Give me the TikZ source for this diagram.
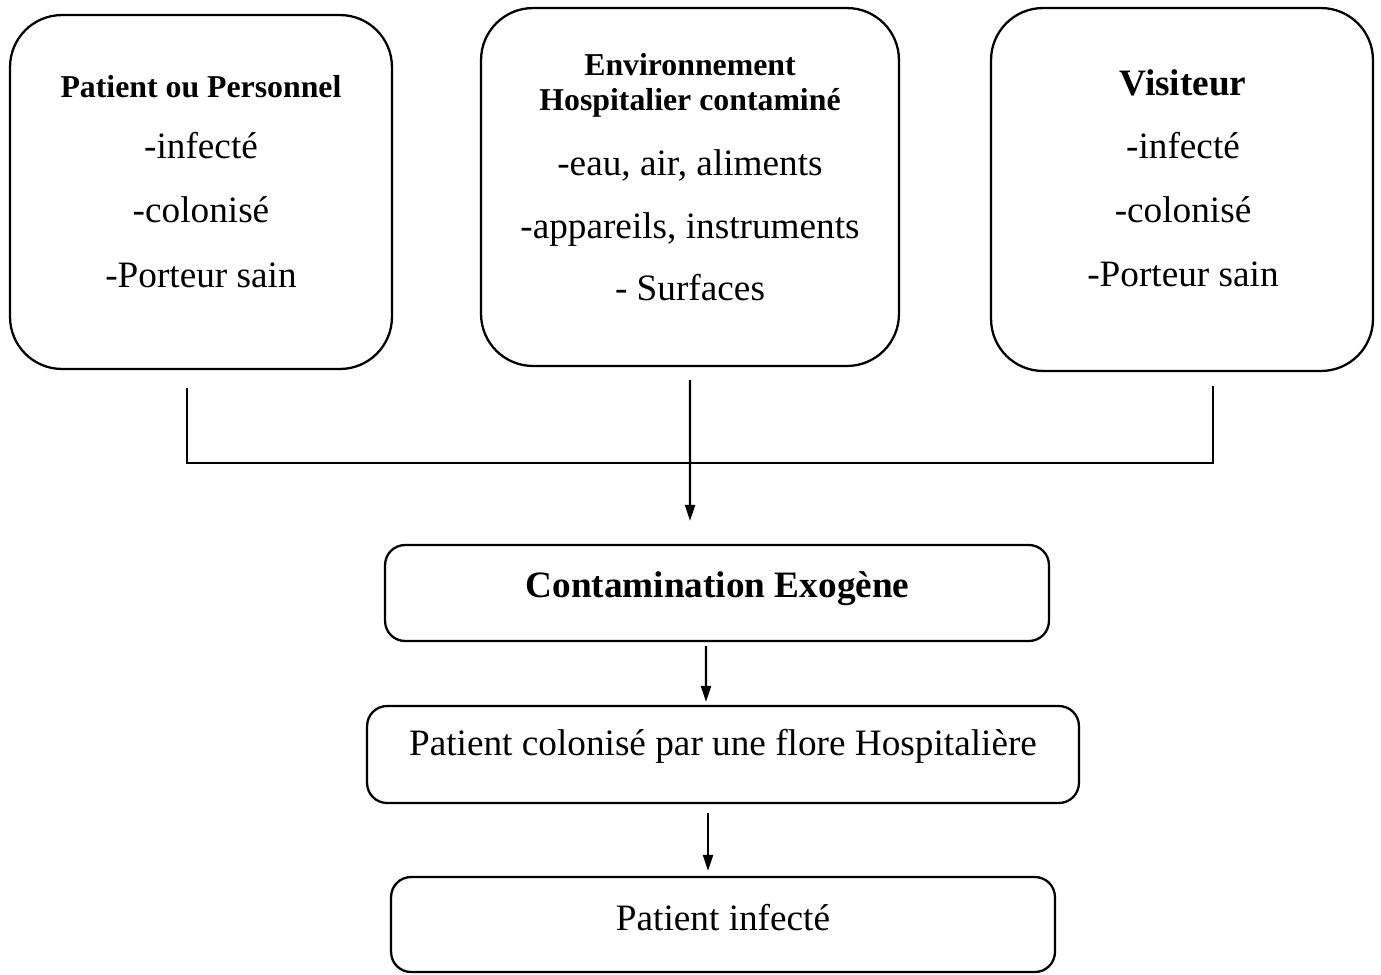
\documentclass[tikz,border=0pt]{standalone}
\usepackage{fontspec}
\setmainfont{Liberation Serif}
\usetikzlibrary{arrows.meta}
\newcommand{\bodysz}{\fontsize{21.2}{25}\selectfont}
\newcommand{\headsz}{\bfseries\fontsize{18.1}{21}\selectfont}
\newcommand{\bigheadsz}{\bfseries\fontsize{21.2}{25}\selectfont}
\tikzset{
  srcbox/.style={draw,line width=1.3pt,rounded corners=1.04cm,inner sep=0},
  stepbox/.style={draw,line width=1.3pt,rounded corners=0.4cm,inner sep=0},
  txt/.style={font=\bodysz,anchor=base,inner sep=0},
  link/.style={line width=1.3pt},
  arr/.style={line width=1.2pt,-{Triangle[length=0.32cm,width=0.2cm]}}
}
\begin{document}
\begin{tikzpicture}[x=0.02cm,y=-0.02cm]
  \useasboundingbox (0,0) rectangle (1381,974);
  % sources
  \node[srcbox,minimum width=7.64cm,minimum height=7.08cm](pat)at(201,192){};
  \node[srcbox,minimum width=8.36cm,minimum height=7.16cm](env)at(690,187){};
  \node[srcbox,minimum width=7.64cm,minimum height=7.26cm](vis)at(1182,189.5){};
  \node[txt,font=\headsz](patH)at(201,97){Patient ou Personnel};
  \foreach \t/\yy [count=\i] in {-infecté/158,-colonisé/222,-Porteur sain/287}{
    \node[txt](patL\i)at(201,\yy){\t};}
  \node[txt,font=\headsz](envH1)at(690,75){Environnement};
  \node[txt,font=\headsz](envH2)at(690,110){Hospitalier contaminé};
  \foreach \t/\yy [count=\i] in {{-eau, air, aliments}/175,{-appareils, instruments}/238,- Surfaces/300}{
    \node[txt](envL\i)at(690,\yy){\t};}
  \node[txt,font=\bigheadsz](visH)at(1183,95){Visiteur};
  \foreach \t/\yy [count=\i] in {-infecté/158,-colonisé/222,-Porteur sain/286}{
    \node[txt](visL\i)at(1183,\yy){\t};}
  % chain
  \node[stepbox,minimum width=13.28cm,minimum height=1.92cm](cont)at(717,593){};
  \node[stepbox,minimum width=14.24cm,minimum height=1.94cm](col)at(723,754.5){};
  \node[stepbox,minimum width=13.28cm,minimum height=1.9cm](inf)at(723,924.5){};
  \node[txt,font=\bigheadsz](contT)at(717.5,597){Contamination Exogène};
  \node[txt](colT)at(723,755){Patient colonisé par une flore Hospitalière};
  \node[txt](infT)at(723,930){Patient infecté};
  % connectors
  \coordinate(jl)at(187,388);
  \coordinate(jr)at(1213,386);
  \draw[link](jl)--(187,463)--(1213,463)--(jr);
  \draw[arr]([yshift=-0.26cm]env.south)--([xshift=-0.54cm,yshift=0.46cm]cont.north);
  \draw[arr]([xshift=-0.22cm,yshift=-0.08cm]cont.south)--([xshift=-0.34cm,yshift=0.06cm]col.north);
  \draw[arr]([xshift=-0.3cm,yshift=-0.18cm]col.south)--([xshift=-0.3cm,yshift=0.1cm]inf.north);
\end{tikzpicture}
\end{document}
